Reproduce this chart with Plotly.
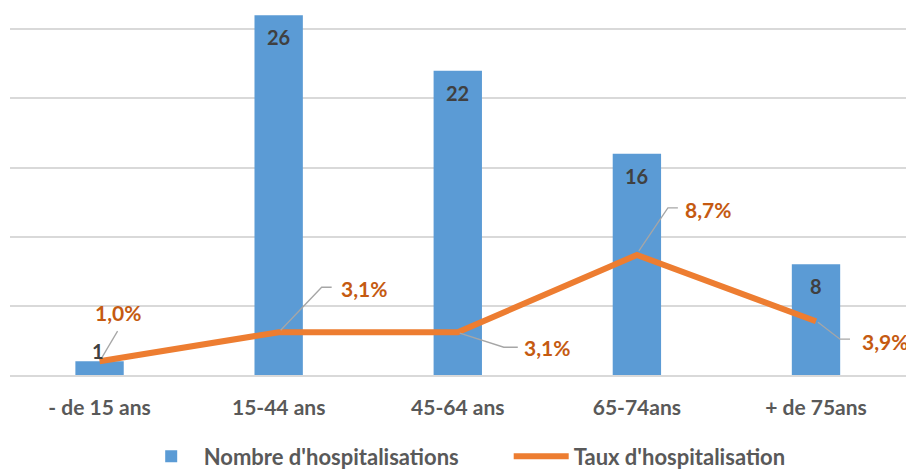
import plotly.graph_objects as go

categories = ["- de 15 ans", "15-44 ans", "45-64 ans", "65-74ans", "+ de 75ans"]
nb_hospit = [1, 26, 22, 16, 8]
taux_hospit = [0.010, 0.031, 0.031, 0.087, 0.039]

BLUE = "#5B9BD5"
ORANGE = "#ED7D31"
ORANGE_TXT = "#C55A11"
GRID = "#D9D9D9"
FONT = "Lato"

fig = go.Figure()
fig.add_trace(go.Bar(
    x=categories, y=nb_hospit, name="Nombre d'hospitalisations",
    marker=dict(color=BLUE, line=dict(width=0)), yaxis="y",
))
fig.add_trace(go.Scatter(
    x=categories, y=taux_hospit, name="Taux d'hospitalisation",
    mode="lines", line=dict(color=ORANGE, width=6), yaxis="y2",
))

annotations = []
# bar value labels
for c, v in zip(categories, nb_hospit):
    if v < 3:
        annotations.append(dict(x=c, y=v, xref="x", yref="y", text=f"<b>{v}</b>",
                                showarrow=False, yanchor="bottom", xshift=-2, yshift=-4,
                                font=dict(family=FONT, size=20, color="#404040")))
    else:
        annotations.append(dict(x=c, y=v, xref="x", yref="y", text=f"<b>{v}</b>",
                                showarrow=False, yanchor="top", yshift=-8,
                                font=dict(family=FONT, size=20, color="#404040")))

# percentage labels: offsets from each point (pixels) and leader path offsets
label_offsets = [
    (18, 49, "center", "M2,3 L18,30"),
    (60, 44, "left", "M2,2 L43,45 L53,45"),
    (64, -15, "left", "M2,-1 L46,-15 L60,-15"),
    (46, 45, "left", "M2,4 L31,47 L41,47"),
    (94, -20, "right", "M2,-1 L24,-18 L34,-18"),
]
shapes = []
for c, v, (xs, ys, xa, path) in zip(categories, taux_hospit, label_offsets):
    txt = f"{v*100:.1f}%".replace(".", ",")
    annotations.append(dict(x=c, y=v, xref="x", yref="y2", text=f"<b>{txt}</b>",
                            showarrow=False, xanchor=xa, yanchor="middle",
                            xshift=xs, yshift=ys,
                            font=dict(family=FONT, size=21, color=ORANGE_TXT)))
    shapes.append(dict(type="path", xref="x", yref="y2", xsizemode="pixel", ysizemode="pixel",
                       xanchor=c, yanchor=v, path=path,
                       line=dict(color="#A6A6A6", width=1.3)))

fig.update_layout(
    width=914, height=471,
    margin=dict(l=2, r=12, t=0, b=103.5, autoexpand=False),
    paper_bgcolor="white", plot_bgcolor="white",
    bargap=0.73,
    font=dict(family=FONT, color="#595959"),
    xaxis=dict(showline=True, linecolor=GRID, linewidth=1.5, ticks="",
               tickfont=dict(family=FONT, size=21, color="#595959", weight="bold"),
               ticklabelstandoff=13, showgrid=False),
    yaxis=dict(range=[0, 26.53], dtick=5, showgrid=True, gridcolor=GRID, gridwidth=1.5,
               showticklabels=False, zeroline=False, showline=False, ticks=""),
    yaxis2=dict(range=[0, 0.266], overlaying="y", visible=False, showgrid=False),
    legend=dict(orientation="h", x=0.143, xanchor="left", y=-0.222, yanchor="middle",
                font=dict(family=FONT, size=22, color="#595959", weight="bold"),
                itemwidth=55, traceorder="normal", tracegroupgap=0,
                entrywidth=300, entrywidthmode="pixels"),
    showlegend=True,
    annotations=annotations,
    shapes=shapes,
)

fig.write_html("out.html")
